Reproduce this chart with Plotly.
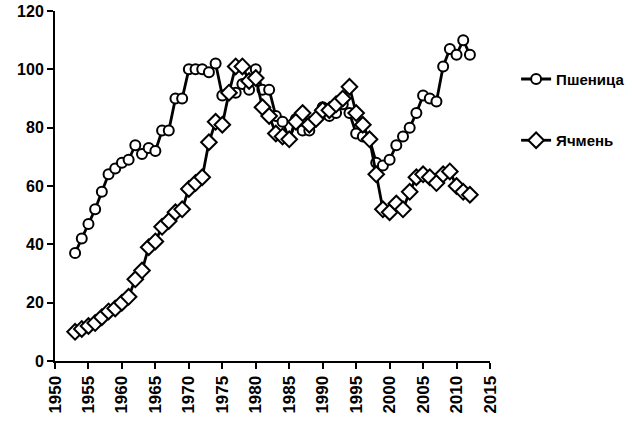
import plotly.graph_objects as go

years = list(range(1953, 2013))

wheat = [37, 42, 47, 52, 58, 64, 66, 68, 69, 74,
         71, 73, 72, 79, 79, 90, 90, 100, 100, 100,
         99, 102, 91, 92, 92, 95, 93, 100, 93, 93,
         84, 82, 76, 83, 79, 79, 83, 87, 84, 85,
         88, 85, 78, 77, 76, 68, 67, 69, 74, 77,
         80, 85, 91, 90, 89, 101, 107, 105, 110, 105]

barley = [10, 11, 12, 13, 15, 17, 18, 20, 22, 28,
          31, 39, 41, 46, 48, 51, 52, 59, 61, 63,
          75, 82, 81, 92, 101, 101, 96, 97, 87, 84,
          78, 77, 76, 82, 85, 81, 83, 86, 86, 88,
          90, 94, 85, 81, 76, 64, 52, 51, 54, 52,
          58, 63, 64, 63, 61, 64, 65, 60, 58, 57]

x_ticks = list(range(1950, 2016, 5))
y_ticks = list(range(0, 121, 20))

font_family = "Liberation Sans, Arial, sans-serif"

fig = go.Figure()
fig.add_trace(go.Scatter(
    x=years, y=wheat, name="Пшеница", mode="lines+markers",
    line=dict(color="black", width=2.8),
    marker=dict(symbol="circle", size=10, color="white",
                line=dict(color="black", width=2)),
    legend="legend"))
fig.add_trace(go.Scatter(
    x=years, y=barley, name="Ячмень", mode="lines+markers",
    line=dict(color="black", width=2.8),
    marker=dict(symbol="diamond", size=12, color="white",
                line=dict(color="black", width=2)),
    legend="legend2"))

axis_common = dict(showline=True, linecolor="black", linewidth=2,
                   ticks="outside", tickcolor="black", tickwidth=2, ticklen=6,
                   showgrid=False, zeroline=False, automargin=False)

fig.update_xaxes(range=[1950, 2015], tickvals=x_ticks, tickangle=-90,
                 tickfont=dict(family=font_family, size=17, color="black", weight="bold"),
                 **axis_common)
fig.update_yaxes(range=[0, 120], tickvals=y_ticks,
                 tickfont=dict(family=font_family, size=16, color="black", weight="bold"),
                 **axis_common)

legend_common = dict(bgcolor="rgba(0,0,0,0)", borderwidth=0,
                     font=dict(family=font_family, size=15, color="black", weight="bold"),
                     xanchor="left", yanchor="middle", itemwidth=30)

fig.update_layout(
    width=644, height=425,
    margin=dict(l=55, r=154, t=11, b=64),
    paper_bgcolor="white", plot_bgcolor="white",
    showlegend=True,
    legend=dict(x=1.06, y=0.805, **legend_common),
    legend2=dict(x=1.06, y=0.63, **legend_common),
)

fig.write_html("out.html")
